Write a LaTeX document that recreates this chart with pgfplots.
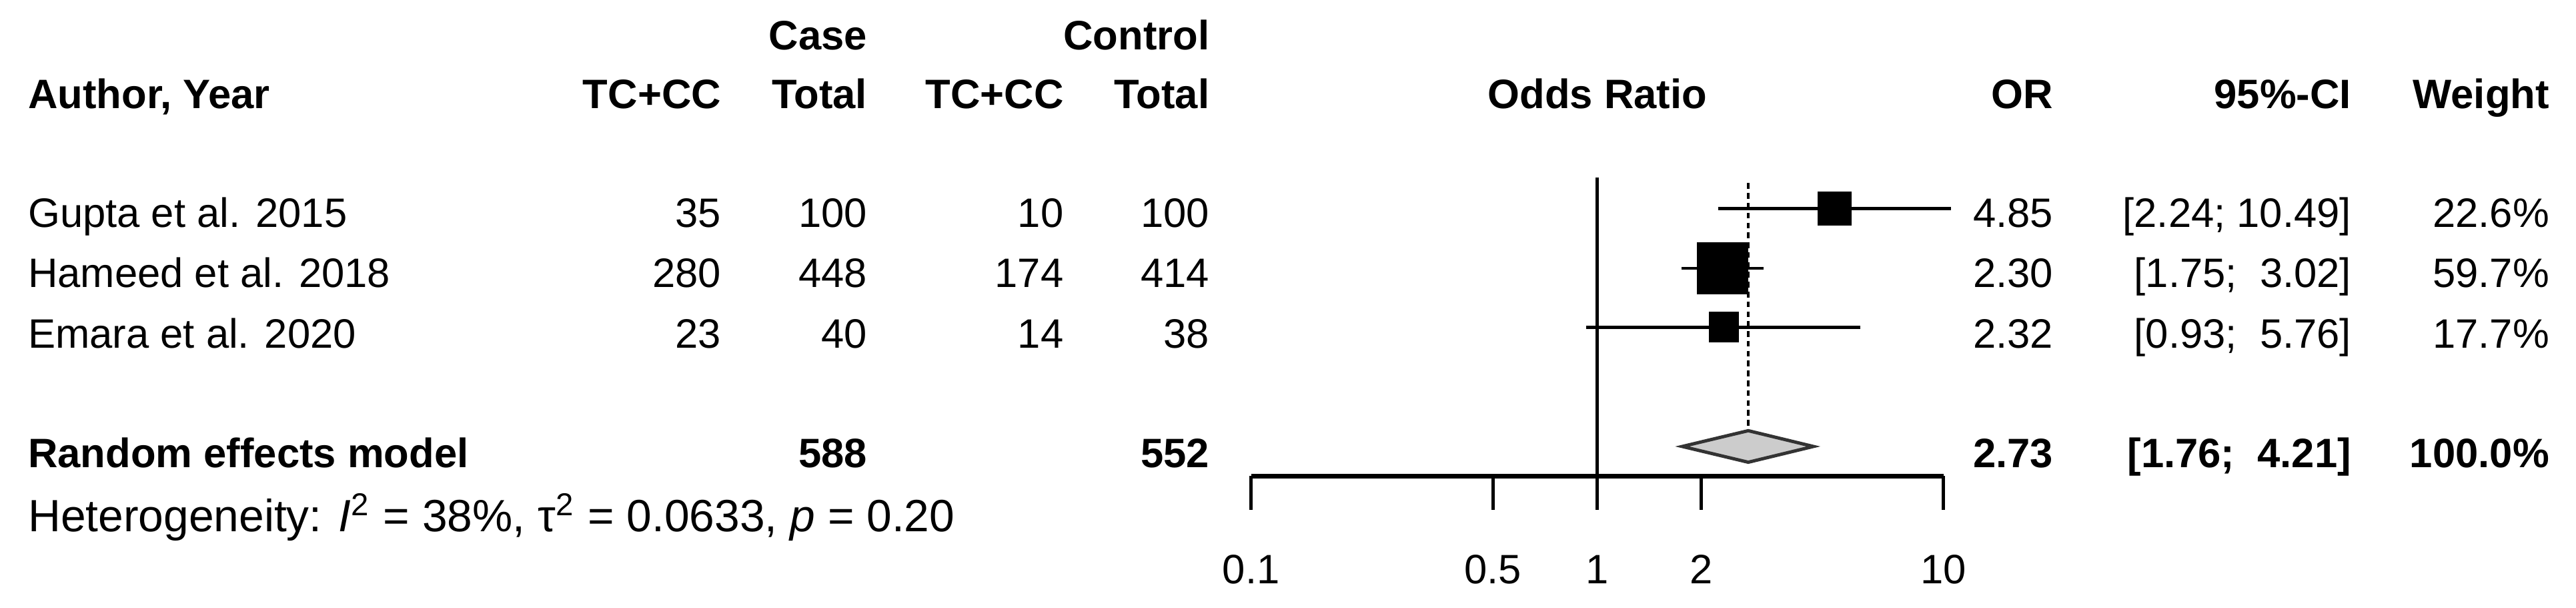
\documentclass[border=0pt]{standalone}
\usepackage{fontspec}
\setmainfont{Liberation Sans}
\usepackage{pgfplots}
\pgfplotsset{compat=1.18}

% 1 unit = 1 px of the 1568 px wide reference view = 0.4pt
\newcommand{\fs}{\fontsize{11.9}{14}\selectfont}
\newcommand{\fh}{\fontsize{11.0}{13}\selectfont}

\begin{document}
\begin{tikzpicture}
% frame axis that carries the table text
\begin{axis}[
    at={(0,0)}, anchor=south west,
    scale only axis, width=627.2pt, height=147.8pt,
    xmin=0, xmax=1568, ymin=-369.5, ymax=0,
    hide axis, clip=false,
    every node/.append style={inner sep=0pt, font=\fs}
]
% headers
\node[anchor=base east] at (536.6,-30.3) {\bfseries Case};
\node[anchor=base east] at (745,-30.3) {\bfseries Control};
\node[anchor=base west] at (8.3,-65.9) {\bfseries Author, Year};
\node[anchor=base east] at (447.7,-65.9) {\bfseries TC+CC};
\node[anchor=base east] at (536.6,-65.9) {\bfseries Total};
\node[anchor=base east] at (656.2,-65.9) {\bfseries TC+CC};
\node[anchor=base east] at (745,-65.9) {\bfseries Total};
\node[anchor=base] at (972.3,-65.9) {\bfseries Odds Ratio};
\node[anchor=base east] at (1258.5,-65.9) {\bfseries OR};
\node[anchor=base east] at (1440,-65.9) {\bfseries 95\%-CI};
\node[anchor=base east] at (1560.5,-65.9) {\bfseries Weight};

% studies
\node[anchor=base west] at (8.3,-138.2) {Gupta et al. 2015};
\node[anchor=base east] at (447.7,-138.2) {35};
\node[anchor=base east] at (536.6,-138.2) {100};
\node[anchor=base east] at (656.2,-138.2) {10};
\node[anchor=base east] at (745,-138.2) {100};
\node[anchor=base east] at (1258.5,-138.2) {4.85};
\node[anchor=base east] at (1440,-138.2) {[2.24; 10.49]};
\node[anchor=base east] at (1560.5,-138.2) {22.6\%};

\node[anchor=base west] at (8.3,-174.9) {Hameed et al. 2018};
\node[anchor=base east] at (447.7,-174.9) {280};
\node[anchor=base east] at (536.6,-174.9) {448};
\node[anchor=base east] at (656.2,-174.9) {174};
\node[anchor=base east] at (745,-174.9) {414};
\node[anchor=base east] at (1258.5,-174.9) {2.30};
\node[anchor=base east] at (1440,-174.9) {[1.75;\ \ 3.02]};
\node[anchor=base east] at (1560.5,-174.9) {59.7\%};

\node[anchor=base west] at (8.3,-211.6) {Emara et al. 2020};
\node[anchor=base east] at (447.7,-211.6) {23};
\node[anchor=base east] at (536.6,-211.6) {40};
\node[anchor=base east] at (656.2,-211.6) {14};
\node[anchor=base east] at (745,-211.6) {38};
\node[anchor=base east] at (1258.5,-211.6) {2.32};
\node[anchor=base east] at (1440,-211.6) {[0.93;\ \ 5.76]};
\node[anchor=base east] at (1560.5,-211.6) {17.7\%};

% pooled
\node[anchor=base west] at (8.3,-284.4) {\bfseries Random effects model};
\node[anchor=base east] at (536.6,-284.4) {\bfseries 588};
\node[anchor=base east] at (745,-284.4) {\bfseries 552};
\node[anchor=base east] at (1258.5,-284.4) {\bfseries 2.73};
\node[anchor=base east] at (1440,-284.4) {\bfseries [1.76;\ \ 4.21]};
\node[anchor=base east] at (1560.5,-284.4) {\bfseries 100.0\%};

\node[anchor=base west, font=\fh] at (8.3,-323.5)
  {Heterogeneity: \textit{I}\textsuperscript{2} = 38\%, τ\textsuperscript{2} = 0.0633, \textit{p} = 0.20};
\end{axis}

% forest panel, log scale
\begin{axis}[
    at={(304.6pt,31.96pt)}, anchor=south west,
    scale only axis, width=168.6pt, height=72.72pt,
    xmode=log, xmin=0.1, xmax=10,
    ymin=-289.6, ymax=-107.8,
    axis x line=bottom, axis y line=none,
    axis line style={-, line width=1.1pt},
    xtick={0.1,0.5,1,2,10}, xticklabels={}, minor xtick={},
    tick align=outside, major tick length=8.2pt,
    xtick style={line width=0.8pt, black},
    clip=false,
    every node/.append style={inner sep=0pt, font=\fs}
]
% line of no effect and pooled estimate
\addplot[black, line width=0.8pt] coordinates {(1,-107.8) (1,-289.6)};
\addplot[black, line width=0.6pt, dash pattern=on 1.4pt off 1pt] coordinates {(2.73,-111.4) (2.73,-262)};

% confidence intervals
\addplot[black, line width=0.8pt] coordinates {(2.24,-127) (10.49,-127)};
\addplot[black, line width=0.8pt] coordinates {(1.75,-163.2) (3.02,-163.2)};
\addplot[black, line width=0.8pt] coordinates {(0.93,-199) (5.76,-199)};

% study estimates (box size follows weight)
\addplot[only marks, mark=square*, mark size=4.1pt, mark options={fill=black, draw=black, line width=0pt}] coordinates {(4.85,-126.8)};
\addplot[only marks, mark=square*, mark size=6.2pt, mark options={fill=black, draw=black, line width=0pt}] coordinates {(2.30,-163.2)};
\addplot[only marks, mark=square*, mark size=3.6pt, mark options={fill=black, draw=black, line width=0pt}] coordinates {(2.32,-199)};

% summary diamond
\addplot[fill=black!20, draw=black!80, line width=0.8pt] coordinates {(1.76,-271.6) (2.73,-262) (4.21,-271.6) (2.73,-281.2)} -- cycle;

% tick labels
\node[anchor=base] at (axis cs:0.1,-355) {0.1};
\node[anchor=base] at (axis cs:0.5,-355) {0.5};
\node[anchor=base] at (axis cs:1,-355) {1};
\node[anchor=base] at (axis cs:2,-355) {2};
\node[anchor=base] at (axis cs:10,-355) {10};
\end{axis}
\pgfresetboundingbox
\path (0,0) rectangle (627.2pt,147.8pt);
\end{tikzpicture}
\end{document}
